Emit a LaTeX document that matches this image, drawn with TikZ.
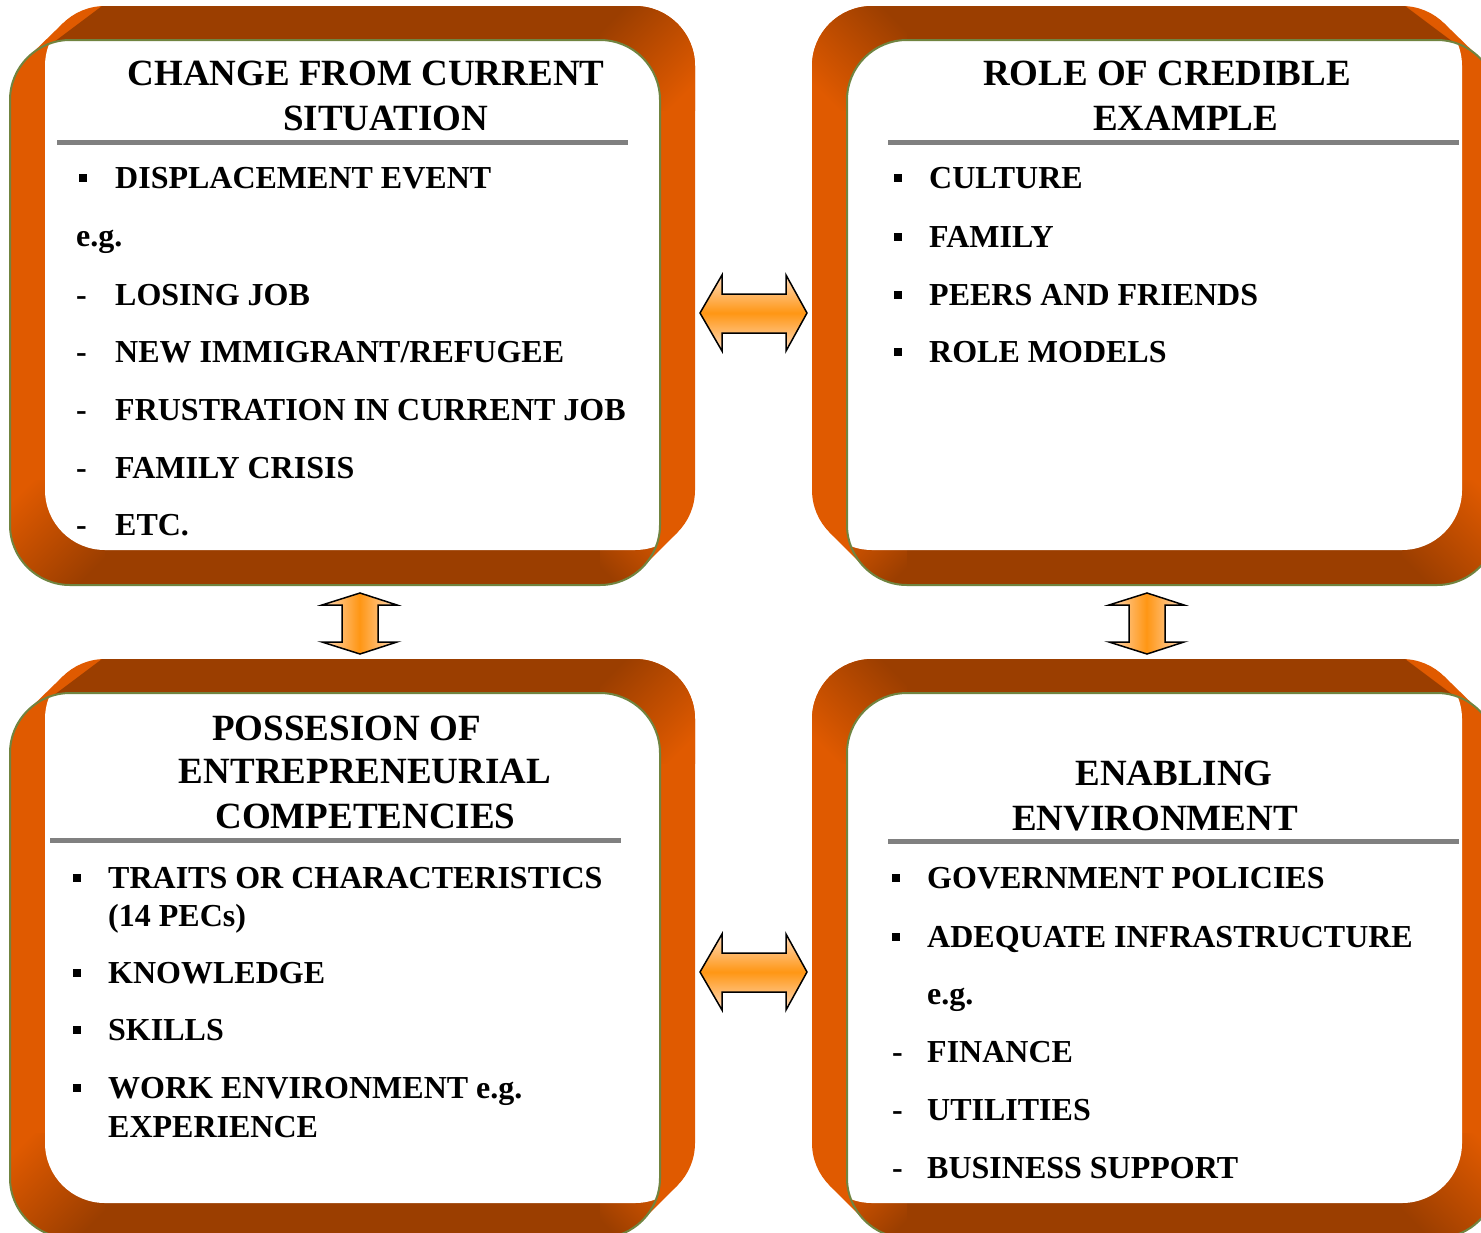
\documentclass[tikz,border=0pt]{standalone}
\usepackage{fontspec}
\setmainfont{Liberation Serif}
\definecolor{sideor}{RGB}{224,90,0}
\definecolor{topbr}{RGB}{155,62,0}
\definecolor{edgegreen}{RGB}{112,132,64}
\definecolor{rulegray}{RGB}{128,128,128}
\definecolor{apale}{RGB}{255,220,190}
\definecolor{amid}{RGB}{255,150,20}
\tikzset{
  ttl/.style={font={\fontsize{37}{40}\selectfont\bfseries}, inner sep=0pt, anchor=base},
  itm/.style={font={\fontsize{32}{36}\selectfont\bfseries}, inner sep=0pt, anchor=base west},
  sqbul/.style={fill=black, rectangle, minimum size=8pt, inner sep=0pt},
  hrule/.style={draw=rulegray, line width=5pt},
  greenedge/.style={draw=edgegreen, line width=2pt, rounded corners=60pt},
  rr/.style={rounded corners=60pt},
  blockarrow/.style={draw=black, line width=1.5pt, line join=miter},
}
% left-hand framed panel (extrusion toward lower-left)
\newcommand\lframe[1]{%
  \fill[sideor,rr] (45,#1+6) rectangle (695,#1+550);
  \fill[sideor,rr] (10,#1+40) rectangle (660,#1+585);
  \fill[sideor] (62.6,#1+23.6) -- (27.6,#1+57.6) -- (642.4,#1+567.4) -- (677.4,#1+532.4) -- cycle;
  \begin{scope}
    \clip[rr] (45,#1+6) rectangle (695,#1+550);
    \fill[topbr] (50,#1+45) -- (110,#1+0) -- (600,#1+0) -- (600,#1+45) -- cycle;
    \shade[top color=topbr,bottom color=sideor,shading angle=45] (600,#1+0) rectangle (700,#1+110);
  \end{scope}
  \begin{scope}
    \clip[rr] (10,#1+40) rectangle (660,#1+585);
    \fill[topbr] (105,#1+545) rectangle (600,#1+590);
    \shade[top color=sideor,bottom color=topbr,shading angle=45] (0,#1+480) rectangle (105,#1+590);
    \shade[top color=sideor,bottom color=topbr,shading angle=-45] (600,#1+500) rectangle (665,#1+590);
  \end{scope}
  \begin{scope}
    \clip[rr] (45,#1+6) rectangle (695,#1+550);
    \fill[white,rr] (10,#1+40) rectangle (660,#1+585);
  \end{scope}
  \draw[greenedge] (10,#1+40) rectangle (660,#1+585);
}
% right-hand framed panel (extrusion toward lower-right)
\newcommand\rframe[1]{%
  \fill[sideor,rr] (812,#1+6) rectangle (1462,#1+550);
  \fill[sideor,rr] (847,#1+40) rectangle (1497,#1+585);
  \fill[sideor] (1444.4,#1+23.6) -- (1479.4,#1+57.6) -- (864.6,#1+567.4) -- (829.6,#1+532.4) -- cycle;
  \begin{scope}
    \clip[rr] (812,#1+6) rectangle (1462,#1+550);
    \fill[topbr] (1457,#1+45) -- (1397,#1+0) -- (907,#1+0) -- (907,#1+45) -- cycle;
    \shade[top color=topbr,bottom color=sideor,shading angle=-45] (807,#1+0) rectangle (907,#1+110);
  \end{scope}
  \begin{scope}
    \clip[rr] (847,#1+40) rectangle (1497,#1+585);
    \fill[topbr] (907,#1+545) rectangle (1402,#1+590);
    \shade[top color=sideor,bottom color=topbr,shading angle=-45] (1402,#1+480) rectangle (1507,#1+590);
    \shade[top color=sideor,bottom color=topbr,shading angle=45] (842,#1+500) rectangle (907,#1+590);
  \end{scope}
  \begin{scope}
    \clip[rr] (812,#1+6) rectangle (1462,#1+550);
    \fill[white,rr] (847,#1+40) rectangle (1497,#1+585);
  \end{scope}
  \draw[greenedge] (847,#1+40) rectangle (1497,#1+585);
}
\begin{document}
\begin{tikzpicture}[x=1pt,y=-1pt]
\useasboundingbox (0,0) rectangle (1481,1232);
\clip (0,0) rectangle (1481,1232);
\fill[white] (0,0) rectangle (1481,1232);

\lframe{0}
\rframe{0}
\lframe{653}
\rframe{653}

% ---------- top-left panel ----------
\node[ttl] (tl1) at (366,85) {CHANGE FROM CURRENT};
\node[ttl] (tl2) at (385.5,130) {SITUATION};
\draw[hrule] (57,142.5) -- (628,142.5);
\node[sqbul] (tlb1) at (83,177.5) {};
\node[itm] (tla) at (115,188) {DISPLACEMENT EVENT};
\node[itm] (tleg) at (76,246) {e.g.};
\node[itm] (tld1) at (76,305) {-};
\node[itm] (tlb) at (115,305) {LOSING JOB};
\node[itm] (tld2) at (76,362) {-};
\node[itm] (tlc) at (115,362) {NEW IMMIGRANT/REFUGEE};
\node[itm] (tld3) at (76,420) {-};
\node[itm] (tld) at (115,420) {FRUSTRATION IN CURRENT JOB};
\node[itm] (tld4) at (76,478) {-};
\node[itm] (tle) at (115,478) {FAMILY CRISIS};
\node[itm] (tld5) at (76,535) {-};
\node[itm] (tlf) at (115,535) {ETC.};

% ---------- top-right panel ----------
\node[ttl] (tr1) at (1167,85) {ROLE OF CREDIBLE};
\node[ttl] (tr2) at (1185.5,130) {EXAMPLE};
\draw[hrule] (888,142.5) -- (1459,142.5);
\node[sqbul] (trb1) at (898,177.5) {};
\node[itm] (tra) at (929,188) {CULTURE};
\node[sqbul] (trb2) at (898,236.5) {};
\node[itm] (trb) at (929,247) {FAMILY};
\node[sqbul] (trb3) at (898,294.5) {};
\node[itm] (trc) at (929,305) {PEERS AND FRIENDS};
\node[sqbul] (trb4) at (898,351.5) {};
\node[itm] (trd) at (929,362) {ROLE MODELS};

% ---------- bottom-left panel ----------
\node[ttl] (bl1) at (346.5,740) {POSSESION OF};
\node[ttl] (bl2) at (365,783) {ENTREPRENEURIAL};
\node[ttl] (bl3) at (365.5,828) {COMPETENCIES};
\draw[hrule] (50,840.5) -- (621,840.5);
\node[sqbul] (blb1) at (77,877.5) {};
\node[itm] (bla) at (108,888) {TRAITS OR CHARACTERISTICS};
\node[itm] (blaa) at (108,926) {(14 PECs)};
\node[sqbul] (blb2) at (77,972.5) {};
\node[itm] (blb) at (108,983) {KNOWLEDGE};
\node[sqbul] (blb3) at (77,1029.5) {};
\node[itm] (blc) at (108,1040) {SKILLS};
\node[sqbul] (blb4) at (77,1087.5) {};
\node[itm] (bld) at (108,1098) {WORK ENVIRONMENT e.g.};
\node[itm] (bldd) at (108,1137) {EXPERIENCE};

% ---------- bottom-right panel ----------
\node[ttl] (br1) at (1174,785) {ENABLING};
\node[ttl] (br2) at (1155,830) {ENVIRONMENT};
\draw[hrule] (888,841) -- (1459,841);
\node[sqbul] (brb1) at (896,877.5) {};
\node[itm] (bra) at (927,888) {GOVERNMENT POLICIES};
\node[sqbul] (brb2) at (896,936.5) {};
\node[itm] (brb) at (927,947) {ADEQUATE INFRASTRUCTURE};
\node[itm] (breg) at (927,1004) {e.g.};
\node[itm] (brd1) at (892,1062) {-};
\node[itm] (brc) at (927,1062) {FINANCE};
\node[itm] (brd2) at (892,1120) {-};
\node[itm] (brd) at (927,1120) {UTILITIES};
\node[itm] (brd3) at (892,1178) {-};
\node[itm] (bre) at (927,1178) {BUSINESS SUPPORT};

% ---------- block arrows ----------
\shade[blockarrow, top color=apale, bottom color=apale, middle color=amid]
  (700,313) -- (722,275) -- (722,294) -- (786,294) -- (786,275) -- (807,313)
  -- (786,351) -- (786,333) -- (722,333) -- (722,351) -- cycle;
\shade[blockarrow, top color=apale, bottom color=apale, middle color=amid]
  (700,972) -- (722,934) -- (722,953) -- (786,953) -- (786,934) -- (807,972)
  -- (786,1010) -- (786,992) -- (722,992) -- (722,1010) -- cycle;
\shade[blockarrow, left color=apale, right color=apale, middle color=amid]
  (360,593) -- (397,605) -- (378,605) -- (378,642) -- (397,642) -- (360,654)
  -- (322,642) -- (342,642) -- (342,605) -- (322,605) -- cycle;
\shade[blockarrow, left color=apale, right color=apale, middle color=amid]
  (1147,593) -- (1184,605) -- (1165,605) -- (1165,642) -- (1184,642) -- (1147,654)
  -- (1109,642) -- (1129,642) -- (1129,605) -- (1109,605) -- cycle;
\end{tikzpicture}
\end{document}
